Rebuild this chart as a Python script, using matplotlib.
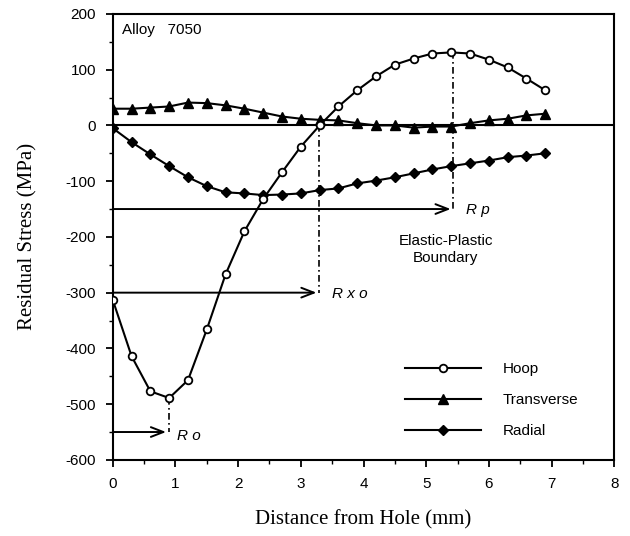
import matplotlib
matplotlib.use("Agg")
import matplotlib.pyplot as plt
from matplotlib.ticker import MultipleLocator

plt.rcParams["axes.unicode_minus"] = False

# ---- data ----
distance = [0.0, 0.3, 0.6, 0.9, 1.2, 1.5, 1.8, 2.1, 2.4, 2.7, 3.0, 3.3,
            3.6, 3.9, 4.2, 4.5, 4.8, 5.1, 5.4, 5.7, 6.0, 6.3, 6.6, 6.9]
hoop = [-313, -414, -477, -489, -457, -366, -267, -190, -132, -84, -38, 0,
        34, 63, 88, 109, 120, 129, 131, 129, 118, 104, 84, 63]
transverse = [30, 30, 32, 34, 41, 40, 36, 30, 23, 16, 12, 10,
              9, 4, 0, 0, -4, -2, -2, 4, 9, 12, 18, 21]
radial = [-5, -30, -52, -73, -93, -109, -120, -122, -125, -124, -122, -116,
          -113, -104, -99, -93, -86, -79, -73, -68, -63, -57, -54, -50]

series_labels = ["Hoop", "Transverse", "Radial"]

# boundary annotations: (radius, arrow level, top of marker line)
ro, ro_level, ro_top = 0.89, -550, -489
rxo, rxo_level, rxo_top = 3.29, -300, 0
rp, rp_level, rp_top = 5.43, -150, 131

x_ticks = [0, 1, 2, 3, 4, 5, 6, 7, 8]
y_ticks = [-600, -500, -400, -300, -200, -100, 0, 100, 200]

# ---- figure ----
fig = plt.figure(figsize=(6.3, 5.36), dpi=100)
ax = fig.add_axes([0.179, 0.142, 0.796, 0.832])

sans = ["Liberation Sans", "DejaVu Sans"]
serif = ["Liberation Serif", "DejaVu Serif"]
fs = 11

ax.axhline(0, color="black", lw=1.5, zorder=1)

ax.plot(distance, hoop, color="black", lw=1.5, marker="o", ms=5.5,
        mfc="white", mec="black", mew=1.3, label=series_labels[0], zorder=4)
ax.plot(distance, transverse, color="black", lw=1.5, marker="^", ms=6.8,
        mfc="black", mec="black", label=series_labels[1], zorder=3)
ax.plot(distance, radial, color="black", lw=1.5, marker="D", ms=4.8,
        mfc="black", mec="black", label=series_labels[2], zorder=3)

# arrows and dash-dot markers
arrow_kw = dict(arrowstyle="->,head_length=0.9,head_width=0.35", lw=1.4,
                color="black", shrinkA=0, shrinkB=0)
for r, lvl, top in [(ro, ro_level, ro_top),
                    (rxo, rxo_level, rxo_top),
                    (rp, rp_level, rp_top)]:
    ax.annotate("", xy=(r - 0.04, lvl), xytext=(0, lvl), arrowprops=arrow_kw)
    ax.plot([r, r], [top, lvl], color="black", lw=1.2, ls=(0, (4, 2, 1, 2)),
            zorder=2)

ax.text(ro + 0.13, ro_level - 8, "R o", fontsize=fs, style="italic",
        family=sans, va="center", ha="left")
ax.text(rxo + 0.2, rxo_level - 3, "R x o", fontsize=fs, style="italic",
        family=sans, va="center", ha="left")
ax.text(rp + 0.2, rp_level - 2, "R p", fontsize=fs, style="italic",
        family=sans, va="center", ha="left")
ax.text(rp - 0.12, -222, "Elastic-Plastic\nBoundary", fontsize=fs,
        family=sans, ha="center", va="center", linespacing=1.25)

ax.text(0.14, 172, "Alloy   7050", fontsize=fs, family=sans,
        ha="left", va="center")

ax.set_xlim(0, 8)
ax.set_ylim(-600, 200)
ax.set_xticks(x_ticks)
ax.set_yticks(y_ticks)
ax.xaxis.set_minor_locator(MultipleLocator(0.5))
ax.yaxis.set_minor_locator(MultipleLocator(50))
ax.tick_params(which="major", direction="out", length=5, width=1.3,
               labelsize=fs, pad=7)
ax.tick_params(which="minor", direction="out", length=3, width=1.0)
for lbl in ax.get_xticklabels() + ax.get_yticklabels():
    lbl.set_family(sans)

for sp in ax.spines.values():
    sp.set_linewidth(1.5)

ax.set_xlabel("Distance from Hole (mm)", family=serif, fontsize=15)
ax.set_ylabel("Residual Stress (MPa)", family=serif, fontsize=15)
ax.xaxis.set_label_coords(0.5, -0.112)
ax.yaxis.set_label_coords(-0.15, 0.5)

leg = ax.legend(loc="lower left", bbox_to_anchor=(0.555, 0.018), frameon=False,
                handlelength=5.0, labelspacing=1.1,
                handletextpad=1.4, prop={"family": sans, "size": fs})

fig.savefig("out.png", dpi=100)
